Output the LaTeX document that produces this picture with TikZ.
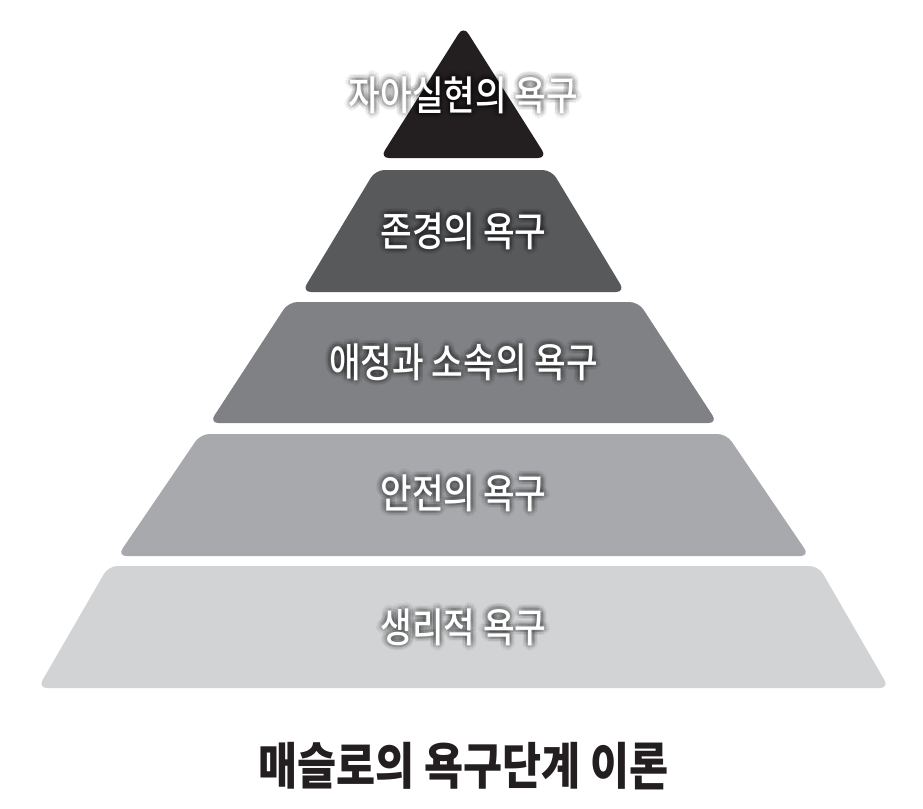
\documentclass[tikz,border=0pt]{standalone}
\usepackage{fontspec}
\newfontfamily\kr[FakeStretch=0.85]{Noto Sans CJK KR}
\newfontfamily\krm[FakeStretch=0.85]{Noto Sans CJK KR Medium}
\usetikzlibrary{
  positioning,
  calc
}
\definecolor{mzK100}{HTML}{231F20}
\definecolor{mzK80}{HTML}{58595B}
\definecolor{mzK60}{HTML}{808184}
\definecolor{mzK40}{HTML}{A7A9AC}
\definecolor{mzK20}{HTML}{D1D3D4}

% white text with a soft dark halo, all in one box
\newlength\hx \newlength\hy
\newcommand\haloed[1]{%
  \setbox0\hbox{#1}%
  \pgfsetfillopacity{0.05}%
  \foreach \r in {2.5,5.5}{\foreach \a in {0,30,...,330}{%
    \pgfmathsetlength\hx{\r*cos(\a)}\pgfmathsetlength\hy{\r*sin(\a)}%
    \rlap{\kern\hx\raise\hy\hbox{\color{black}\copy0}}}}%
  \pgfsetfillopacity{1}%
  \box0}

\begin{document}
\begin{tikzpicture}[
  x=1pt, y=-1pt,
  every node/.style={font=\krm\fontsize{40.5}{42}\selectfont, inner sep=0pt},
  level/.style={rounded corners=9pt},
  lbl/.style={text=white},
  title/.style={font=\kr\bfseries\fontsize{50}{52}\selectfont, text=mzK100}
]
 \useasboundingbox (0,0) rectangle (923,808);

 % Level 1 (top) -- triangle
 \fill[level, fill=mzK100] (463.5,26) -- (547,158) -- (380,158) -- cycle;

 % Levels 2 to 5 -- trapezoids: top y / bottom y / top half width / bottom half width
 \foreach \yt/\yb/\wt/\wb/\col in {170/292/88/161.5/mzK80,
                                  302/423/175/254/mzK60,
                                  434/556/263/346/mzK40,
                                  566/688/355/425.5/mzK20}
   \fill[level, fill=\col] (463.5-\wt,\yt) -- (463.5+\wt,\yt)
        -- (463.5+\wb,\yb) -- (463.5-\wb,\yb) -- cycle;

 % Labels
 \node[lbl] (need1) at (463.5,95)  {\haloed{자아실현의 욕구}};
 \node[lbl] (need2) at (463.5,231) {\haloed{존경의 욕구}};
 \node[lbl] (need3) at (463.5,362) {\haloed{애정과 소속의 욕구}};
 \node[lbl] (need4) at (463.5,493) {\haloed{안전의 욕구}};
 \node[lbl] (need5) at (463.5,627) {\haloed{생리적 욕구}};

 % Caption
 \node[title] (caption) at (463.5,766) {매슬로의 욕구단계 이론};
\end{tikzpicture}
\end{document}
